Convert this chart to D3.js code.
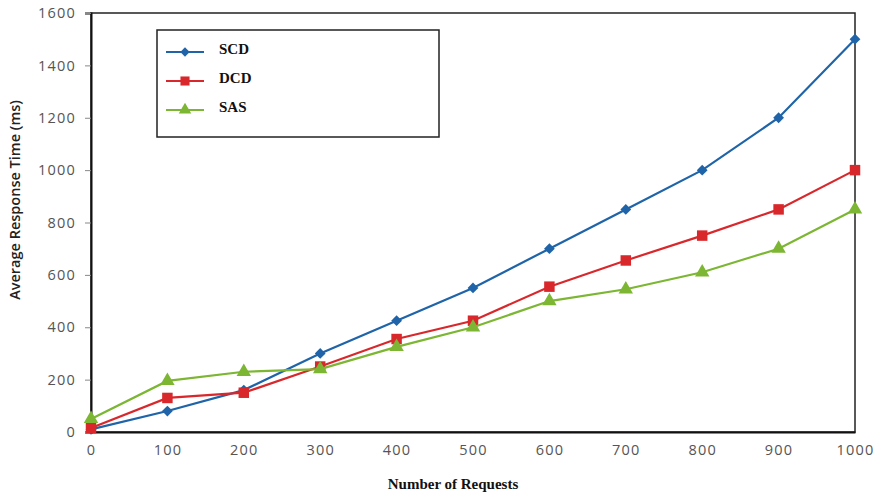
<!DOCTYPE html>
<html>
<head>
<meta charset="utf-8">
<script src="https://cdn.jsdelivr.net/npm/d3@7"></script>
<style>
  html, body { margin: 0; padding: 0; background: #fff; }
  svg { display: block; }
</style>
</head>
<body>
<svg id="chart" width="879" height="496"></svg>
<script>
// Request counts on the x axis
const requests = [0, 100, 200, 300, 400, 500, 600, 700, 800, 900, 1000];
// Average response time (ms) for each scheme
const scdValues = [10, 80, 160, 300, 425, 550, 700, 850, 1000, 1200, 1500];
const dcdValues = [15, 130, 150, 250, 355, 425, 555, 655, 750, 850, 1000];
const sasValues = [50, 195, 230, 240, 325, 400, 500, 545, 610, 700, 850];
const seriesNames = ["SCD", "DCD", "SAS"];
const xTicks = [0, 100, 200, 300, 400, 500, 600, 700, 800, 900, 1000];
const yTicks = [0, 200, 400, 600, 800, 1000, 1200, 1400, 1600];

const series = [
  { name: seriesNames[0], values: scdValues, color: "#1f64a8", symbol: d3.symbolSquare, size: 58, rotate: 45 },
  { name: seriesNames[1], values: dcdValues, color: "#d8282c", symbol: d3.symbolSquare, size: 110, rotate: 0 },
  { name: seriesNames[2], values: sasValues, color: "#7cb632", symbol: d3.symbolTriangle, size: 90, rotate: 0 }
];

const svg = d3.select("#chart");
const margin = { left: 91, top: 13, right: 24, bottom: 64 };
const W = 879, H = 496;

const x = d3.scaleLinear().domain([0, 1000]).range([margin.left, W - margin.right]);
const y = d3.scaleLinear().domain([0, 1600]).range([H - margin.bottom, margin.top]);

// Plot frame
svg.append("rect")
  .attr("x", x(0)).attr("y", y(1600))
  .attr("width", x(1000) - x(0)).attr("height", y(0) - y(1600))
  .attr("fill", "none").attr("stroke", "#222").attr("stroke-width", 1.5);

// Axes
const yAxis = svg.append("g")
  .attr("transform", `translate(${x(0)},0)`)
  .call(d3.axisLeft(y).tickValues(yTicks).tickSize(6).tickPadding(9).tickFormat(d3.format("d")));
const xAxis = svg.append("g")
  .attr("transform", `translate(0,${y(0)})`)
  .call(d3.axisBottom(x).tickValues(xTicks).tickSize(0).tickPadding(13).tickFormat(d3.format("d")));

[yAxis, xAxis].forEach(g => {
  g.select(".domain").attr("stroke", "#111").attr("stroke-width", 2);
  g.selectAll(".tick line").attr("stroke", "#888");
  g.selectAll(".tick text")
    .attr("fill", "#555")
    .style("font-family", "'Open Sans', 'DejaVu Sans', sans-serif")
    .style("font-size", "14.5px")
    .style("letter-spacing", "1.2px");
});

// Axis titles
svg.append("text")
  .attr("x", 453).attr("y", 489)
  .attr("text-anchor", "middle")
  .style("font-family", "'Liberation Serif', 'Times New Roman', serif")
  .style("font-weight", "bold").style("font-size", "15px")
  .attr("fill", "#111")
  .text("Number of Requests");

svg.append("text")
  .attr("transform", "translate(20,200) rotate(-90)")
  .attr("text-anchor", "middle")
  .style("font-family", "'Open Sans', 'DejaVu Sans', sans-serif")
  .style("font-weight", "600").style("font-size", "14.5px")
  .attr("fill", "#222")
  .text("Average Response Time (ms)");

// Lines and markers
const line = d3.line().x((d, i) => x(requests[i])).y(d => y(d));

series.forEach(s => {
  svg.append("path")
    .datum(s.values)
    .attr("d", line)
    .attr("fill", "none")
    .attr("stroke", s.color)
    .attr("stroke-width", 2.2);
  svg.append("g").selectAll("path")
    .data(s.values)
    .join("path")
    .attr("transform", (d, i) => `translate(${x(requests[i])},${y(d)}) rotate(${s.rotate})`)
    .attr("d", d3.symbol().type(s.symbol).size(s.size))
    .attr("fill", s.color);
});

// Legend
const legend = svg.append("g");
legend.append("rect")
  .attr("x", 157).attr("y", 30).attr("width", 282).attr("height", 107)
  .attr("fill", "#fff").attr("stroke", "#222").attr("stroke-width", 1.5);

series.forEach((s, i) => {
  const ly = 52 + i * 29;
  legend.append("line")
    .attr("x1", 166).attr("x2", 204).attr("y1", ly).attr("y2", ly)
    .attr("stroke", s.color).attr("stroke-width", 2.2);
  legend.append("path")
    .attr("transform", `translate(185,${ly}) rotate(${s.rotate})`)
    .attr("d", d3.symbol().type(s.symbol).size(s.size * 0.75))
    .attr("fill", s.color);
  legend.append("text")
    .attr("x", 219).attr("y", ly - 1)
    .attr("dominant-baseline", "middle")
    .style("font-family", "'Liberation Serif', 'Times New Roman', serif")
    .style("font-weight", "bold").style("font-size", "15px")
    .attr("fill", "#111")
    .text(s.name);
});
</script>
</body>
</html>
